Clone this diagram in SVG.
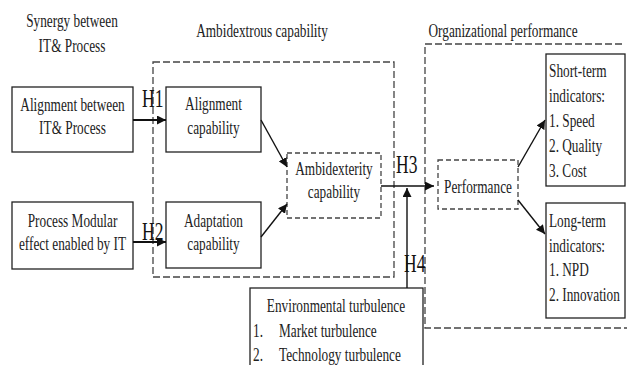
<svg xmlns="http://www.w3.org/2000/svg" width="627" height="365" viewBox="0 0 627 365">
  <style>
    text { font-family: 'Liberation Serif', 'DejaVu Serif', serif; font-size: 19px; fill: #222; }
    .h { font-size: 25px; fill: #111; }
    .mid { text-anchor: middle; }
    .box { fill: #fff; stroke: #222; stroke-width: 1.3; }
    .dash { fill: none; stroke: #444; stroke-width: 1.3; stroke-dasharray: 7 3; }
    .dash-s { fill: #fff; stroke: #444; stroke-width: 1.3; stroke-dasharray: 5 3; }
    .arrow { fill: none; stroke: #111; stroke-width: 1.4; marker-end: url(#head); }
    .arrow-b { fill: none; stroke: #111; stroke-width: 2; marker-end: url(#head); }
  </style>
  <defs>
    <marker id="head" viewBox="0 0 10 10" refX="10" refY="5" markerWidth="9" markerHeight="9" markerUnits="userSpaceOnUse" orient="auto">
      <path d="M0,0 L10,5 L0,10 z" fill="#111"/>
    </marker>
  </defs>
  <rect width="627" height="365" fill="#fff"/>

  <!-- group frames -->
  <g id="frames">
    <rect class="dash" x="153" y="62" width="241" height="215"/>
    <path class="dash" d="M622,44 H425 V328 H627"/>
    <text class="mid" transform="translate(72 27) scale(0.7 1)">Synergy between</text>
    <text class="mid" transform="translate(72 52) scale(0.7 1)">IT&amp; Process</text>
    <text class="mid" transform="translate(262 37) scale(0.7 1)">Ambidextrous capability</text>
    <text class="mid" transform="translate(503 37) scale(0.7 1)">Organizational performance</text>
  </g>

  <g id="alignment-between">
    <rect class="box" x="12" y="87" width="121" height="65"/>
    <text class="mid" transform="translate(72.5 111) scale(0.7 1)">Alignment between</text>
    <text class="mid" transform="translate(72.5 134) scale(0.7 1)">IT&amp; Process</text>
  </g>

  <g id="process-modular">
    <rect class="box" x="12" y="202" width="121" height="67"/>
    <text class="mid" transform="translate(72.5 227) scale(0.7 1)">Process Modular</text>
    <text class="mid" transform="translate(72.5 250) scale(0.7 1)">effect enabled by IT</text>
  </g>

  <g id="alignment-capability">
    <rect class="box" x="166" y="87" width="95" height="65"/>
    <text class="mid" transform="translate(213.5 110) scale(0.7 1)">Alignment</text>
    <text class="mid" transform="translate(213.5 134) scale(0.7 1)">capability</text>
  </g>

  <g id="adaptation-capability">
    <rect class="box" x="166" y="202" width="95" height="66"/>
    <text class="mid" transform="translate(213.5 227) scale(0.7 1)">Adaptation</text>
    <text class="mid" transform="translate(213.5 250) scale(0.7 1)">capability</text>
  </g>

  <g id="ambidexterity-capability">
    <rect class="dash-s" x="287" y="153" width="94" height="65"/>
    <text class="mid" transform="translate(334 175) scale(0.7 1)">Ambidexterity</text>
    <text class="mid" transform="translate(334 198) scale(0.7 1)">capability</text>
  </g>

  <g id="performance">
    <rect class="dash-s" x="438" y="160" width="80" height="49"/>
    <text class="mid" transform="translate(478 193) scale(0.7 1)">Performance</text>
  </g>

  <g id="short-term">
    <rect class="box" x="546" y="54" width="79" height="132"/>
    <text transform="translate(549 77) scale(0.7 1)">Short-term</text>
    <text transform="translate(549 102) scale(0.7 1)">indicators:</text>
    <text transform="translate(549 127) scale(0.7 1)">1. Speed</text>
    <text transform="translate(549 152) scale(0.7 1)">2. Quality</text>
    <text transform="translate(549 177) scale(0.7 1)">3. Cost</text>
  </g>

  <g id="long-term">
    <rect class="box" x="546" y="203" width="79" height="115"/>
    <text transform="translate(549 227) scale(0.7 1)">Long-term</text>
    <text transform="translate(549 252) scale(0.7 1)">indicators:</text>
    <text transform="translate(549 276) scale(0.7 1)">1. NPD</text>
    <text transform="translate(549 301) scale(0.7 1)">2. Innovation</text>
  </g>

  <g id="environmental-turbulence">
    <rect class="box" x="250" y="288" width="173" height="90"/>
    <text class="mid" transform="translate(336 312) scale(0.7 1)">Environmental turbulence</text>
    <text transform="translate(253 337) scale(0.7 1)">1.</text>
    <text transform="translate(279 337) scale(0.7 1)">Market turbulence</text>
    <text transform="translate(253 361) scale(0.7 1)">2.</text>
    <text transform="translate(279 361) scale(0.7 1)">Technology turbulence</text>
  </g>

  <!-- connectors and hypothesis labels -->
  <g id="connectors">
    <line class="arrow-b" x1="133" y1="120" x2="166" y2="120"/>
    <line class="arrow-b" x1="133" y1="242" x2="166" y2="242"/>
    <line class="arrow" x1="261" y1="120" x2="287" y2="167"/>
    <line class="arrow" x1="261" y1="237" x2="287" y2="204"/>
    <line class="arrow" x1="381" y1="186" x2="434" y2="186"/>
    <line class="arrow" x1="407" y1="288" x2="407" y2="188"/>
    <line class="arrow" x1="518" y1="167" x2="545" y2="120"/>
    <line class="arrow" x1="518" y1="200" x2="545" y2="234"/>
    <text class="h" transform="translate(142 107) scale(0.7 1)">H1</text>
    <text class="h" transform="translate(142 240) scale(0.7 1)">H2</text>
    <text class="h" transform="translate(396 173) scale(0.7 1)">H3</text>
    <text class="h" transform="translate(404 272) scale(0.7 1)">H4</text>
  </g>
</svg>
